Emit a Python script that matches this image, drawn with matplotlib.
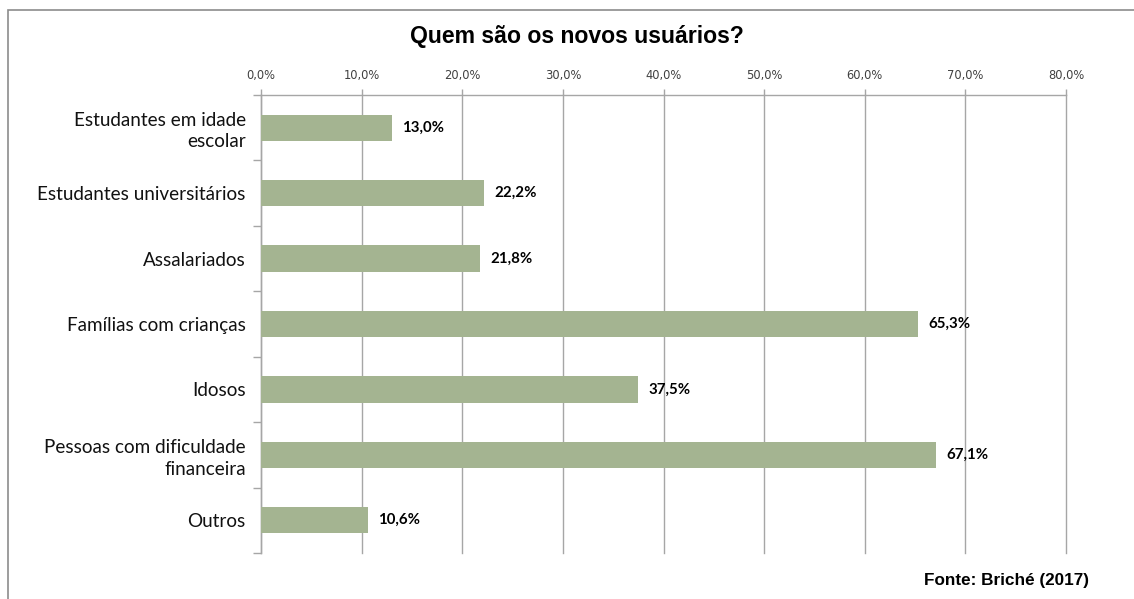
import matplotlib.pyplot as plt
from matplotlib.patches import Rectangle
from matplotlib.ticker import FixedLocator

# Quem são os novos usuários? (Briché, 2017)
categories = [
    "Estudantes em idade\nescolar",
    "Estudantes universitários",
    "Assalariados",
    "Famílias com crianças",
    "Idosos",
    "Pessoas com dificuldade\nfinanceira",
    "Outros",
]
values = [13.0, 22.2, 21.8, 65.3, 37.5, 67.1, 10.6]
x_ticks = [0, 10, 20, 30, 40, 50, 60, 70, 80]

bar_color = "#A4B491"
grid_color = "#A6A6A6"
label_font = "Lato"

fig = plt.figure(figsize=(11.34, 5.99), dpi=100)
ax = fig.add_axes([261 / 1134, 1 - 553 / 599, (1066 - 261) / 1134, (553 - 95) / 599])

y = list(range(len(categories)))
ax.barh(y, values, height=0.4, color=bar_color, zorder=3)

# value labels next to each bar
for yi, v in zip(y, values):
    ax.text(v + 1.0, yi, f"{v:.1f}%".replace(".", ","), va="center", ha="left",
            fontsize=10.8, fontweight="bold", family=label_font, color="black", zorder=4)

ax.set_xlim(0, 80)
ax.set_ylim(len(categories) - 0.5, -0.5)

ax.xaxis.tick_top()
ax.set_xticks(x_ticks)
ax.set_xticklabels([f"{t:.1f}%".replace(".", ",") for t in x_ticks],
                   fontsize=8.3, family="DejaVu Sans", color="#404040")
ax.tick_params(axis="x", which="major", direction="out", length=4, width=1,
               color=grid_color, pad=5)
ax.grid(axis="x", color=grid_color, linewidth=1, zorder=0)
for line in ax.get_xgridlines():
    line.set_clip_on(False)

ax.set_yticks(y)
ax.set_yticklabels(categories, fontsize=13.6, family=label_font, color="#111111",
                   linespacing=1.3)
ax.tick_params(axis="y", which="major", length=0, pad=11)
ax.yaxis.set_minor_locator(FixedLocator([i - 0.5 for i in range(len(categories) + 1)]))
ax.tick_params(axis="y", which="minor", direction="out", length=6, width=1, color=grid_color)

for side in ["right", "bottom"]:
    ax.spines[side].set_visible(False)
for side in ["left", "top"]:
    ax.spines[side].set_color(grid_color)
    ax.spines[side].set_linewidth(1)

fig.text(577 / 1134, 1 - 36 / 599, "Quem são os novos usuários?", ha="center", va="center",
         fontsize=16.6, fontweight="bold", family="Liberation Sans")
fig.text(1089 / 1134, 1 - 580 / 599, "Fonte: Briché (2017)", ha="right", va="center",
         fontsize=12.3, fontweight="bold", family="Liberation Sans")

# chart frame
fig.patches.append(Rectangle((8 / 1134, -0.05), 1.2, 1 - 10 / 599 + 0.05,
                             transform=fig.transFigure, fill=False,
                             edgecolor="#8C8C8C", linewidth=1.2))

fig.savefig("out.png", dpi=100)
